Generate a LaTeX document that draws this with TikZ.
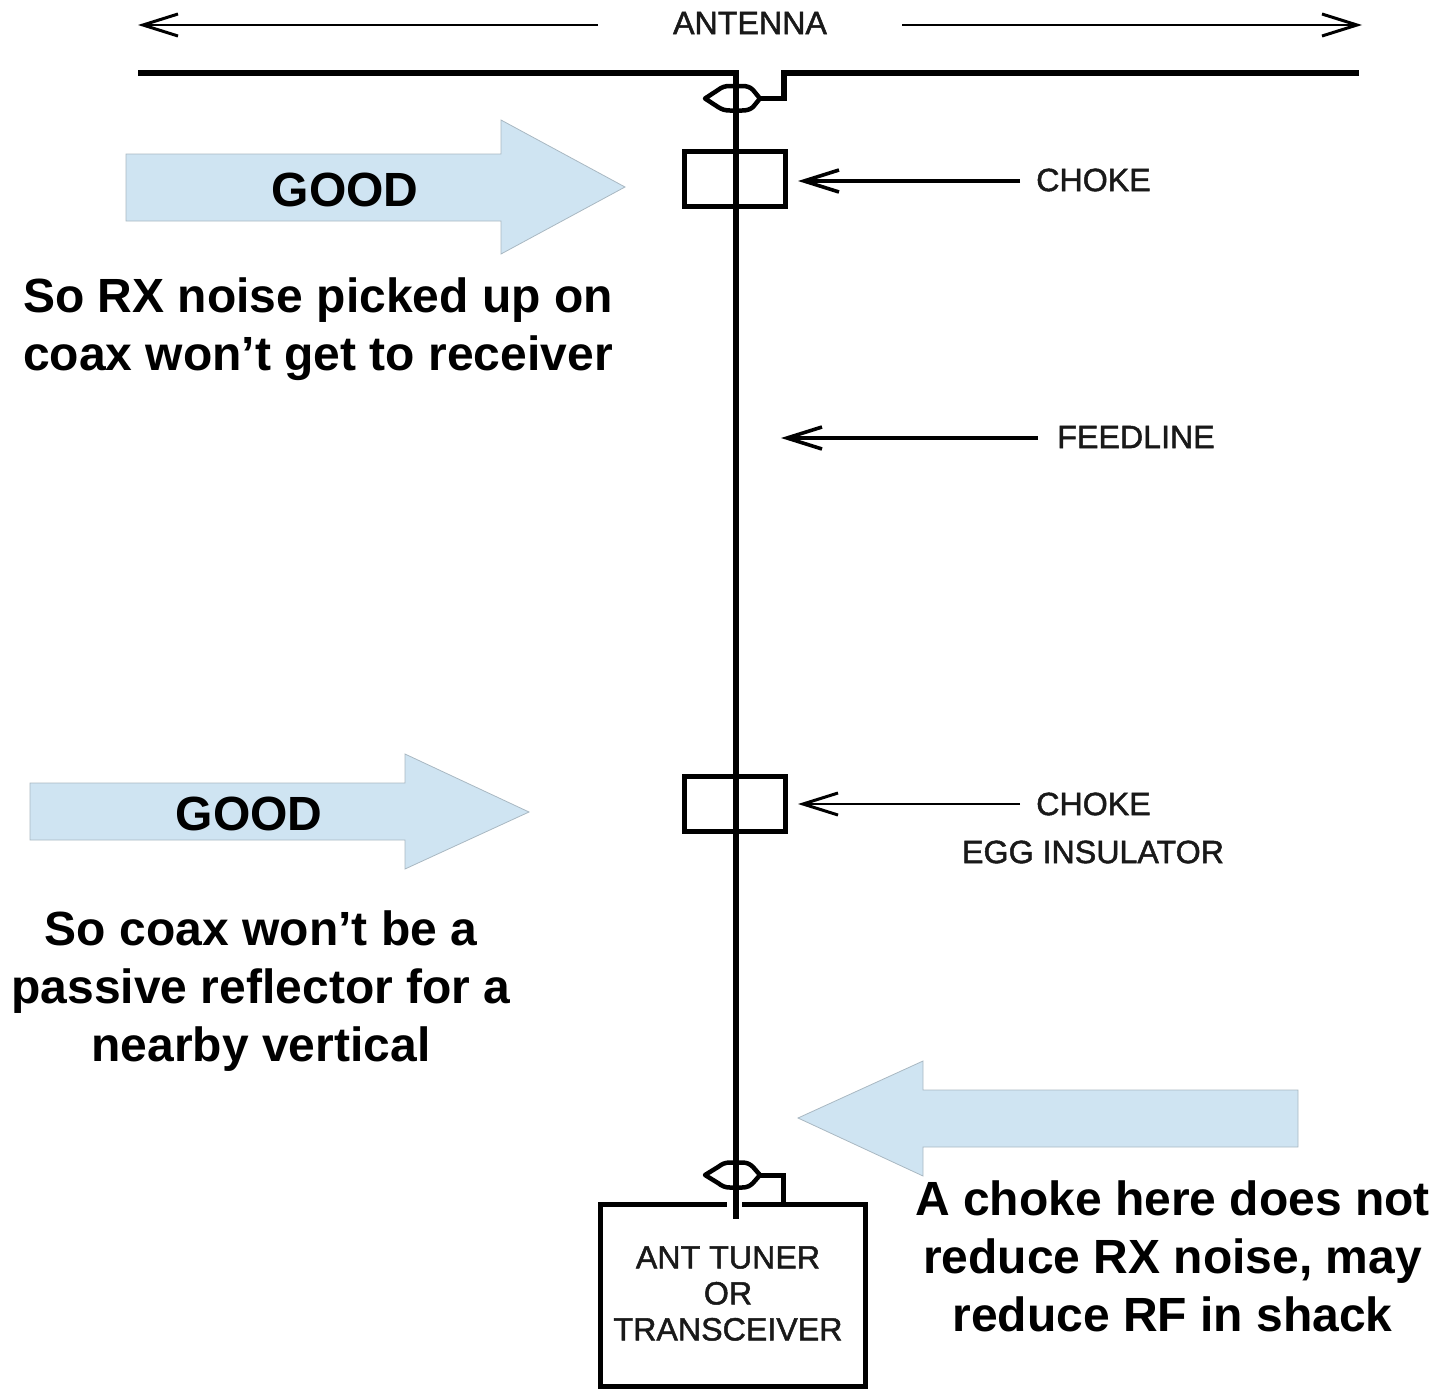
\documentclass[tikz,border=0pt]{standalone}
\usepackage{fontspec}
\setmainfont{Liberation Sans}
\newfontfamily\blurfont[FakeBold=1.5]{Liberation Sans}
\usetikzlibrary{arrows.meta}
\definecolor{blockblue}{HTML}{CFE4F2}
\definecolor{blockedge}{HTML}{A9B8C2}
\tikzset{
  x=1pt,y=-1pt,
  wire/.style={line width=5.5pt,black,line join=miter},
  part/.style={draw=black,line width=5pt,fill=none,inner sep=0pt},
  eye/.style={line width=4.5pt,black,line join=round},
  block/.style={fill=blockblue,draw=blockedge,line width=0.8pt},
  callout/.style={font=\bfseries\fontsize{48}{58}\selectfont,align=center,inner sep=0pt},
  good/.style={font=\bfseries\fontsize{48}{58}\selectfont,inner sep=0pt},
  small/.style={font=\blurfont\fontsize{32.2}{36}\selectfont,inner sep=0pt,align=center,text=black!90},
  lead/.style={line width=3.2pt,-{Straight Barb[length=35pt,width=22pt,line width=3.6pt]}},
  thinlead/.style={line width=2pt,-{Straight Barb[length=35pt,width=22pt,line width=3pt]}},
}
\begin{document}
\begin{tikzpicture}
\useasboundingbox (0,0) rectangle (1441,1390);
% block arrows
\draw[block] (126,154) -- (501,154) -- (501,120) -- (625,187) -- (501,254) -- (501,221) -- (126,221) -- cycle;
\draw[block] (30,783) -- (405,783) -- (405,754) -- (529,812) -- (405,869) -- (405,840) -- (30,840) -- cycle;
\draw[block] (1298,1090) -- (923,1090) -- (923,1061) -- (798,1118) -- (923,1176) -- (923,1147) -- (1298,1147) -- cycle;
\node[good] (goodA) at (345,190) {GOOD};
\node[good] (goodB) at (249,814) {GOOD};
% antenna
\coordinate (antL) at (138,73);
\coordinate (antC) at (736,73);
\coordinate (antR) at (1359,73);
\coordinate (feedEnd) at (736,1219);
\coordinate (eyeTopL) at (705,98.5);
\coordinate (eyeTopR) at (760,98.5);
\coordinate (eyeBotL) at (705,1175);
\coordinate (eyeBotR) at (760,1175);
% parts
\node[part,minimum width=101pt,minimum height=55pt] (chokeA) at (735,179) {};
\node[part,minimum width=101pt,minimum height=55pt] (chokeB) at (735,803.5) {};
\node[part,minimum width=265pt,minimum height=182pt] (tuner) at (733,1295.5) {};
\draw[white,line width=6.5pt] (727,1204.5) -- (742,1204.5);
% wires
\draw[wire] (antL) -- (antC) -- (feedEnd);
\draw[wire] (antR) -- (784,73) -- (784,98.5) -- (eyeTopR);
\draw[wire,line width=5pt] (eyeBotR) -- (783.5,1175) -- (783.5,1204);
\draw[eye] (eyeTopL) -- (718,90) .. controls (722,87) and (725,86) .. (730,86) -- (742,86) .. controls (747,86) and (750,87) .. (753,90) -- (eyeTopR) -- (753,107) .. controls (750,109.5) and (747,110.5) .. (742,110.5) -- (730,110.5) .. controls (725,110.5) and (722,109.5) .. (718,107) -- cycle;
\draw[eye] (eyeBotL) -- (718,1167) .. controls (722,1164) and (725,1162.5) .. (730,1162.5) -- (742,1162.5) .. controls (747,1162.5) and (750,1164) .. (753,1167) -- (eyeBotR) -- (753,1183) .. controls (750,1186) and (747,1187.5) .. (742,1187.5) -- (730,1187.5) .. controls (725,1187.5) and (722,1186) .. (718,1183) -- cycle;
% labels
\node[small] (antLabel) at (750,23) {ANTENNA};
\node[small] (chokeLabelA) at (1093.5,180) {CHOKE};
\node[small] (feedLabel) at (1136,437) {FEEDLINE};
\node[small] (chokeLabelB) at (1093.5,804) {CHOKE};
\node[small] (eggLabel) at (1093,852) {EGG INSULATOR};
\node[small] (tunerLabel) at (728,1293.5) {ANT TUNER\\OR\\TRANSCEIVER};
% leaders
\coordinate (antTipL) at (138,25);
\coordinate (antTipR) at (1362,25);
\coordinate (chokeTipA) at (798,181);
\coordinate (feedTip) at (781,438);
\coordinate (chokeTipB) at (798,804);
\coordinate (antTailL) at (598,25);
\coordinate (antTailR) at (902,25);
\coordinate (chokeTailA) at (1020,181);
\coordinate (feedTail) at (1038,438);
\coordinate (chokeTailB) at (1020,804);
\draw[thinlead] (antTailL) -- (antTipL);
\draw[thinlead] (antTailR) -- (antTipR);
\draw[lead] (chokeTailA) -- (chokeTipA);
\draw[lead] (feedTail) -- (feedTip);
\draw[thinlead] (chokeTailB) -- (chokeTipB);
% callouts
\node[callout] (noteA) at (318,329) {So RX noise picked up on\\coax won’t get to receiver};
\node[callout] (noteB) at (261,991) {So coax won’t be a\\passive reflector for a\\nearby vertical};
\node[callout] (noteC) at (1172.5,1256) {A choke here does not\\reduce RX noise, may\\reduce RF in shack};
\end{tikzpicture}
\end{document}
